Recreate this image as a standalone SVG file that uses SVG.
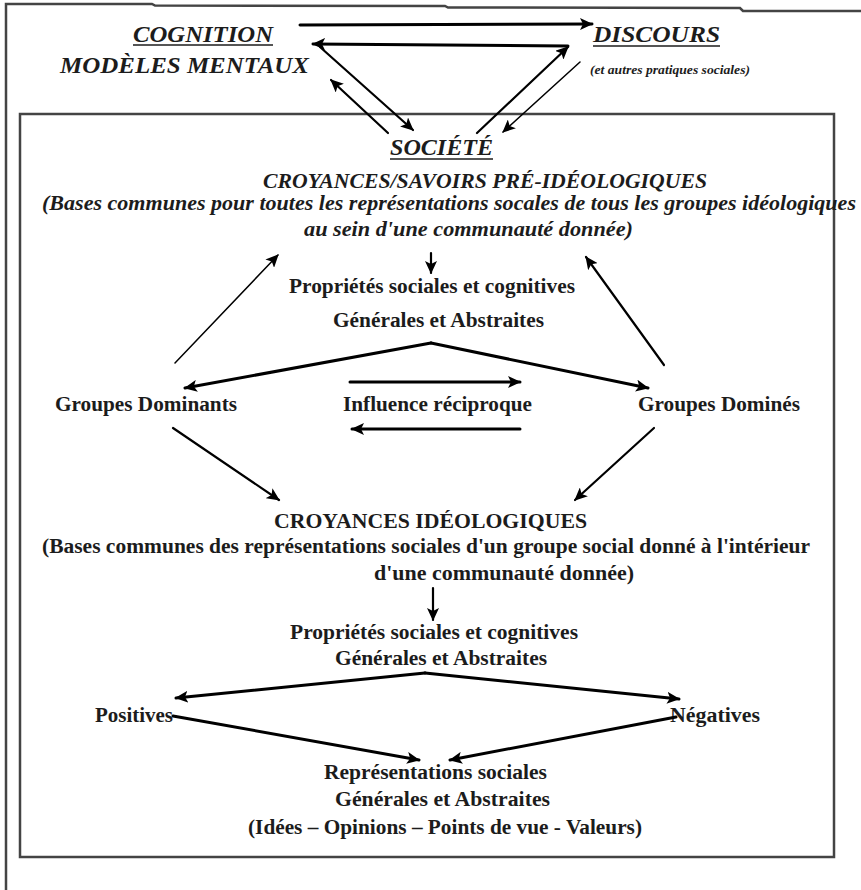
<svg xmlns="http://www.w3.org/2000/svg" width="861" height="890" viewBox="0 0 861 890">
<style>
.t{font-family:"Liberation Serif","Times New Roman",serif;font-weight:bold;fill:#1c1c1c}
.bi{font-style:italic}
.h{font-size:24px}
.m{font-size:20.5px}
.s{font-size:12.5px}
.ul{stroke:#1c1c1c;stroke-width:1.6}
.c{stroke:#000;fill:none;stroke-linecap:round}
.w3{stroke-width:3}
.w2{stroke-width:2.2}
.w1{stroke-width:1.5}
.frame{stroke:#444;fill:none;stroke-width:2.5}
</style>
<defs>
<marker id="ah" markerUnits="userSpaceOnUse" markerWidth="14" markerHeight="12" refX="12" refY="6" orient="auto">
<path d="M0,0 L13,6 L0,12 L3,6 z" fill="#000"/>
</marker>
</defs>
<rect x="0" y="0" width="861" height="890" fill="#fff"/>
<g id="frame">
<polyline class="frame" points="6,890 6,4 152,4 155,5.5 445,6 448,7.5 740,8 743,11 861,11"/>
<rect class="frame" x="20" y="114" width="814" height="743"/>
</g>
<g id="cognition">
<text class="t bi h" x="133" y="42" textLength="140" lengthAdjust="spacingAndGlyphs">COGNITION</text>
<line class="ul" x1="133" y1="45" x2="273" y2="45"/>
<text class="t bi h" x="60" y="73" textLength="249" lengthAdjust="spacingAndGlyphs">MODÈLES MENTAUX</text>
</g>
<g id="discours">
<text class="t bi h" x="593" y="42" textLength="127" lengthAdjust="spacingAndGlyphs">DISCOURS</text>
<line class="ul" x1="593" y1="46" x2="720" y2="46"/>
<text class="t bi s" x="590" y="74" textLength="160" lengthAdjust="spacingAndGlyphs">(et autres pratiques sociales)</text>
</g>
<g id="societe">
<text class="t bi h" x="390" y="155" textLength="103" lengthAdjust="spacingAndGlyphs">SOCIÉTÉ</text>
<line class="ul" x1="390" y1="159" x2="493" y2="159"/>
</g>
<g id="croyances-pre">
<text class="t bi m" x="263" y="188" textLength="444" lengthAdjust="spacingAndGlyphs">CROYANCES/SAVOIRS PRÉ-IDÉOLOGIQUES</text>
<text class="t bi m" x="42" y="210" textLength="814" lengthAdjust="spacingAndGlyphs">(Bases communes pour toutes les représentations socales de tous les groupes idéologiques</text>
<text class="t bi m" x="304" y="236" textLength="329" lengthAdjust="spacingAndGlyphs">au sein d'une communauté donnée)</text>
</g>
<g id="proprietes-1">
<text class="t m" x="289" y="293" textLength="286" lengthAdjust="spacingAndGlyphs">Propriétés sociales et cognitives</text>
<text class="t m" x="333" y="327" textLength="211" lengthAdjust="spacingAndGlyphs">Générales et Abstraites</text>
</g>
<g id="groupes-dominants">
<text class="t m" x="55" y="411" textLength="182" lengthAdjust="spacingAndGlyphs">Groupes Dominants</text>
</g>
<g id="influence">
<text class="t m" x="343" y="411" textLength="189" lengthAdjust="spacingAndGlyphs">Influence réciproque</text>
</g>
<g id="groupes-domines">
<text class="t m" x="638" y="411" textLength="162" lengthAdjust="spacingAndGlyphs">Groupes Dominés</text>
</g>
<g id="croyances-ideologiques">
<text class="t m" x="274" y="528" textLength="313" lengthAdjust="spacingAndGlyphs">CROYANCES IDÉOLOGIQUES</text>
<text class="t m" x="42" y="553" textLength="768" lengthAdjust="spacingAndGlyphs">(Bases communes des représentations sociales d'un groupe social donné à l'intérieur</text>
<text class="t m" x="374" y="580" textLength="260" lengthAdjust="spacingAndGlyphs">d'une communauté donnée)</text>
</g>
<g id="proprietes-2">
<text class="t m" x="290" y="639" textLength="288" lengthAdjust="spacingAndGlyphs">Propriétés sociales et cognitives</text>
<text class="t m" x="335" y="665" textLength="212" lengthAdjust="spacingAndGlyphs">Générales et Abstraites</text>
</g>
<g id="positives">
<text class="t m" x="95" y="722" textLength="78" lengthAdjust="spacingAndGlyphs">Positives</text>
</g>
<g id="negatives">
<text class="t m" x="670" y="722" textLength="90" lengthAdjust="spacingAndGlyphs">Négatives</text>
</g>
<g id="representations">
<text class="t m" x="324" y="779" textLength="223" lengthAdjust="spacingAndGlyphs">Représentations sociales</text>
<text class="t m" x="335" y="806" textLength="215" lengthAdjust="spacingAndGlyphs">Générales et Abstraites</text>
<text class="t m" x="248" y="834" textLength="394" lengthAdjust="spacingAndGlyphs">(Idées – Opinions – Points de vue - Valeurs)</text>
</g>
<g id="connectors">
<line class="c w3" x1="300" y1="25" x2="592" y2="24" marker-end="url(#ah)"/>
<line class="c w3" x1="568" y1="46" x2="313" y2="44" marker-end="url(#ah)"/>
<line class="c w2" x1="477" y1="133" x2="568" y2="47" marker-end="url(#ah)"/>
<line class="c w2" x1="320" y1="47" x2="413" y2="130" marker-end="url(#ah)"/>
<line class="c w2" x1="388" y1="133" x2="331" y2="80" marker-end="url(#ah)"/>
<line class="c w1" x1="580" y1="62" x2="503" y2="132" marker-end="url(#ah)"/>
<line class="c w2" x1="431" y1="253" x2="431" y2="273" marker-end="url(#ah)"/>
<line class="c w1" x1="175" y1="363" x2="278" y2="255" marker-end="url(#ah)"/>
<line class="c w2" x1="664" y1="365" x2="586" y2="257" marker-end="url(#ah)"/>
<line class="c w3" x1="431" y1="343" x2="185" y2="388" marker-end="url(#ah)"/>
<line class="c w3" x1="431" y1="343" x2="648" y2="388" marker-end="url(#ah)"/>
<line class="c w3" x1="350" y1="382" x2="520" y2="382" marker-end="url(#ah)"/>
<line class="c w3" x1="520" y1="429" x2="352" y2="429" marker-end="url(#ah)"/>
<line class="c w2" x1="173" y1="428" x2="279" y2="500" marker-end="url(#ah)"/>
<line class="c w2" x1="654" y1="428" x2="575" y2="500" marker-end="url(#ah)"/>
<line class="c w2" x1="433" y1="588" x2="433" y2="620" marker-end="url(#ah)"/>
<line class="c w3" x1="425" y1="673" x2="176" y2="698" marker-end="url(#ah)"/>
<line class="c w3" x1="425" y1="673" x2="679" y2="699" marker-end="url(#ah)"/>
<line class="c w3" x1="173" y1="716" x2="419" y2="760" marker-end="url(#ah)"/>
<line class="c w3" x1="676" y1="717" x2="450" y2="760" marker-end="url(#ah)"/>
</g>
</svg>
